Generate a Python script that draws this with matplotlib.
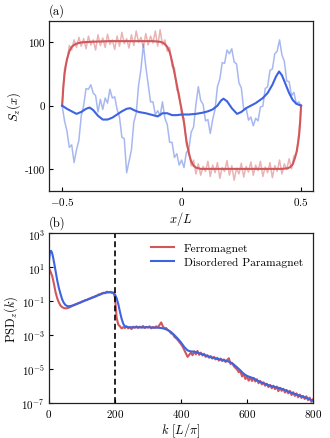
import numpy as np
import matplotlib
matplotlib.use("Agg")
import matplotlib.pyplot as plt

plt.rcParams.update({
    "font.family": "serif",
    "font.serif": ["cmr10", "DejaVu Serif"],
    "mathtext.fontset": "cm",
    "axes.formatter.use_mathtext": True,
    "axes.unicode_minus": True,
    "font.size": 8,
})

# ---- panel (a): spin profile S_z(x) ----
x_noisy = np.linspace(-0.5, 0.5, 101)

ferro_noisy = [
    0, 58, 70, 95, 88, 104, 92, 108, 94, 106,
    90, 110, 96, 104, 88, 112, 95, 107, 92, 113,
    97, 104, 89, 110, 94, 116, 98, 106, 91, 112,
    95, 118, 100, 108, 92, 114, 96, 110, 99, 118,
    94, 120, 96, 104, 86, 92, 62, 60, 25, 20,
    -15, -20, -62, -70, -95, -86, -108, -92, -110, -96,
    -104, -88, -112, -94, -106, -90, -115, -98, -104, -87,
    -110, -95, -118, -99, -108, -91, -113, -96, -105, -89,
    -110, -94, -103, -88, -112, -97, -106, -90, -114, -95,
    -104, -86, -108, -92, -101, -84, -100, -80, -76, -48,
    0]

para_noisy = [
    0, -24, -40, -66, -62, -90, -70, -55, -16, 0,
    27, 26, 33, 20, 16, -10, 10, -6, 12, 4,
    26, 12, 14, -6, -18, -50, -52, -106, -88, -70,
    -26, -12, 32, 58, 97, 62, 34, 6, 6, -14,
    -8, -16, 6, -20, -30, -58, -58, -82, -76, -94,
    -86, -98, -74, -70, -42, -34, 2, 30, 8, 2,
    -24, -22, -44, -22, -6, 30, 42, 68, 67, 88,
    82, 90, 69, 66, 36, 28, -6, -4, -23, -18,
    -32, -20, -24, -2, -1, 27, 30, 56, 58, 82,
    86, 104, 80, 70, 39, 38, 16, 21, 3, 6,
    0]

x_ferro_smooth = [-0.5, -0.495, -0.49, -0.485, -0.48, -0.47, -0.46, -0.45, -0.44, -0.42,
                  -0.38, -0.3, -0.2, -0.12, -0.09, -0.075, -0.06, -0.05, -0.04, -0.03,
                  -0.02, -0.01, 0.0, 0.01, 0.02, 0.03, 0.04, 0.05, 0.06, 0.08,
                  0.15, 0.3, 0.42, 0.445, 0.455, 0.465, 0.475, 0.482, 0.488, 0.493,
                  0.497, 0.5]
ferro_smooth = [0, 30, 50, 63, 73, 86, 93, 96, 98, 100,
                101, 102, 102, 102, 101, 99, 93, 85, 70, 52,
                33, 13, -6, -27, -55, -75, -88, -95, -98, -100,
                -100, -100, -100, -99, -97, -93, -82, -72, -58, -42,
                -22, 0]

x_para_smooth = [-0.5, -0.48, -0.46, -0.44, -0.42, -0.4, -0.385, -0.37, -0.35, -0.33,
                 -0.31, -0.29, -0.27, -0.25, -0.23, -0.215, -0.2, -0.18, -0.15, -0.12,
                 -0.1, -0.08, -0.06, -0.04, -0.02, 0.0, 0.03, 0.06, 0.09, 0.11,
                 0.13, 0.15, 0.165, 0.175, 0.19, 0.21, 0.232, 0.25, 0.27, 0.29,
                 0.31, 0.34, 0.36, 0.38, 0.395, 0.408, 0.42, 0.435, 0.45, 0.465,
                 0.48, 0.5]
para_smooth = [0, -5, -9, -13, -10, -5, -3, -7, -16, -22,
               -22, -19, -14, -9, -5, -4, -7, -10, -12, -15,
               -17, -12, -12, -15, -15, -14, -14, -13, -11, -9,
               -6, 0, 8, 11, 7, -4, -13, -10, -4, 0,
               4, 12, 20, 33, 46, 54, 48, 34, 20, 9,
               3, 0]

# ---- panel (b): power spectral density ----
k_ferro = np.arange(0, 801, 5)
ferro_log_psd = [
    0.9, 0.7, 0.45, 0.0, -0.5, -0.85, -1.1, -1.28, -1.37, -1.42,
    -1.44, -1.43, -1.4, -1.36, -1.3, -1.26, -1.2, -1.17, -1.12, -1.1,
    -1.04, -1.02, -0.96, -0.95, -0.88, -0.86, -0.8, -0.78, -0.72, -0.7,
    -0.62, -0.63, -0.56, -0.52, -0.55, -0.46, -0.5, -0.47, -0.52, -0.5,
    -0.8, -2.0, -2.4, -2.5, -2.62, -2.55, -2.6, -2.5, -2.62, -2.55,
    -2.66, -2.52, -2.58, -2.5, -2.6, -2.52, -2.56, -2.48, -2.6, -2.53,
    -2.57, -2.5, -2.62, -2.54, -2.58, -2.5, -2.56, -2.42, -2.27, -2.5,
    -2.62, -2.6, -2.72, -2.78, -2.92, -2.95, -3.12, -3.2, -3.3, -3.42,
    -3.55, -3.7, -3.9, -4.1, -4.3, -4.18, -4.05, -4.2, -3.98, -4.15,
    -3.95, -4.18, -4.05, -4.22, -4.12, -4.3, -4.2, -4.35, -4.25, -4.4,
    -4.3, -4.45, -4.35, -4.52, -4.4, -4.55, -4.45, -4.6, -4.48, -4.38,
    -4.72, -4.65, -4.85, -4.95, -5.05, -5.2, -5.15, -5.45, -5.3, -5.6,
    -5.45, -5.7, -5.5, -5.72, -5.55, -5.75, -5.62, -5.85, -5.72, -5.92,
    -5.8, -6.0, -5.88, -6.08, -5.95, -6.15, -6.0, -6.2, -6.05, -6.32,
    -6.12, -6.3, -6.18, -6.4, -6.25, -6.45, -6.3, -6.55, -6.38, -6.6,
    -6.45, -6.68, -6.52, -6.72, -6.6, -6.78, -6.62, -6.85, -6.7, -6.95,
    -6.8]

k_para = [0, 3, 6, 9, 12, 15, 20, 25, 30, 35,
          40, 45, 50, 55, 60, 70, 80, 90, 100, 110,
          120, 130, 140, 150, 160, 170, 180, 190, 195, 200,
          205, 210, 215, 220, 225, 230, 240, 250, 260, 270,
          280, 290, 300, 310, 320, 330, 340, 350, 360, 370,
          380, 390, 400, 410, 420, 430, 440, 450, 460, 470,
          480, 490, 500, 510, 520, 530, 540, 550, 560, 570,
          580, 590, 600, 610, 620, 630, 640, 650, 660, 670,
          680, 690, 700, 710, 720, 730, 740, 750, 760, 770,
          780, 790, 800]
para_log_psd = [1.35, 1.9, 1.95, 1.85, 1.6, 1.3, 0.75, 0.2, -0.25, -0.6,
                -0.92, -1.12, -1.25, -1.3, -1.32, -1.28, -1.22, -1.14, -1.05, -0.97,
                -0.9, -0.82, -0.75, -0.66, -0.58, -0.52, -0.49, -0.5, -0.54, -0.62,
                -0.85, -1.2, -1.65, -2.05, -2.35, -2.5, -2.55, -2.56, -2.56, -2.55,
                -2.57, -2.56, -2.55, -2.57, -2.58, -2.58, -2.6, -2.64, -2.72, -2.84,
                -3.02, -3.22, -3.45, -3.72, -3.92, -3.98, -3.99, -4.05, -4.12, -4.18,
                -4.25, -4.32, -4.37, -4.42, -4.45, -4.5, -4.55, -4.62, -4.75, -4.92,
                -5.1, -5.3, -5.42, -5.5, -5.56, -5.68, -5.78, -5.85, -5.93, -6.0,
                -6.05, -6.1, -6.15, -6.22, -6.3, -6.38, -6.45, -6.52, -6.59, -6.65,
                -6.72, -6.8, -6.88]

k_cut = 200

red = "#d1575a"
blue = "#3d63e0"

fig = plt.figure(figsize=(3.3, 4.39), dpi=100)
ax1 = fig.add_axes([0.1485, 0.5626, 0.8, 0.3875])
ax2 = fig.add_axes([0.1485, 0.0804, 0.8, 0.3866])

# (a)
ax1.plot(x_noisy, ferro_noisy, color=red, lw=1.1, alpha=0.45)
ax1.plot(x_noisy, para_noisy, color=blue, lw=1.1, alpha=0.45)
ax1.plot(x_ferro_smooth, ferro_smooth, color=red, lw=1.5)
ax1.plot(x_para_smooth, para_smooth, color=blue, lw=1.5)
ax1.set_xlim(-0.555, 0.55)
ax1.set_ylim(-135, 134)
ax1.set_xticks([-0.5, 0, 0.5])
ax1.set_xticklabels(["$-0.5$", "$0$", "$0.5$"])
ax1.set_yticks([-100, 0, 100])
ax1.set_yticklabels(["-100", "0", "100"])
ax1.set_xlabel("$x/L$", fontsize=9, labelpad=1)
ax1.set_ylabel("$S_z(x)$", fontsize=9, labelpad=1)
ax1.text(0.0, 1.025, "(a)", transform=ax1.transAxes, fontsize=9, va="bottom")

# (b)
ax2.plot(k_ferro, 10.0 ** np.array(ferro_log_psd), color=red, lw=1.5,
         label="Ferromagnet")
ax2.plot(k_para, 10.0 ** np.array(para_log_psd), color=blue, lw=1.5,
         label="Disordered Paramagnet")
ax2.axvline(k_cut, color="black", ls=(0, (3.5, 2)), lw=1.2)
ax2.set_yscale("log")
ax2.set_xlim(0, 800)
ax2.set_ylim(1e-7, 1e3)
ax2.set_xticks([0, 200, 400, 600, 800])
ax2.set_yticks([1e-7, 1e-5, 1e-3, 1e-1, 1e1, 1e3])
ax2.minorticks_off()
ax2.set_xlabel(r"$k\ [L/\pi]$", fontsize=9, labelpad=1)
ax2.set_ylabel(r"$\mathrm{PSD}_z(k)$", fontsize=9, labelpad=1)
ax2.text(0.0, 1.025, "(b)", transform=ax2.transAxes, fontsize=9, va="bottom")
ax2.legend(loc="upper right", frameon=False, fontsize=8.3, handlelength=2.0,
           handletextpad=0.8, borderaxespad=0.5, labelspacing=0.3)

for ax in (ax1, ax2):
    ax.tick_params(direction="in", length=3, width=0.8, labelsize=8, pad=3)
    for sp in ax.spines.values():
        sp.set_linewidth(0.9)
        sp.set_color("#222222")

fig.savefig("out.png", dpi=100)
